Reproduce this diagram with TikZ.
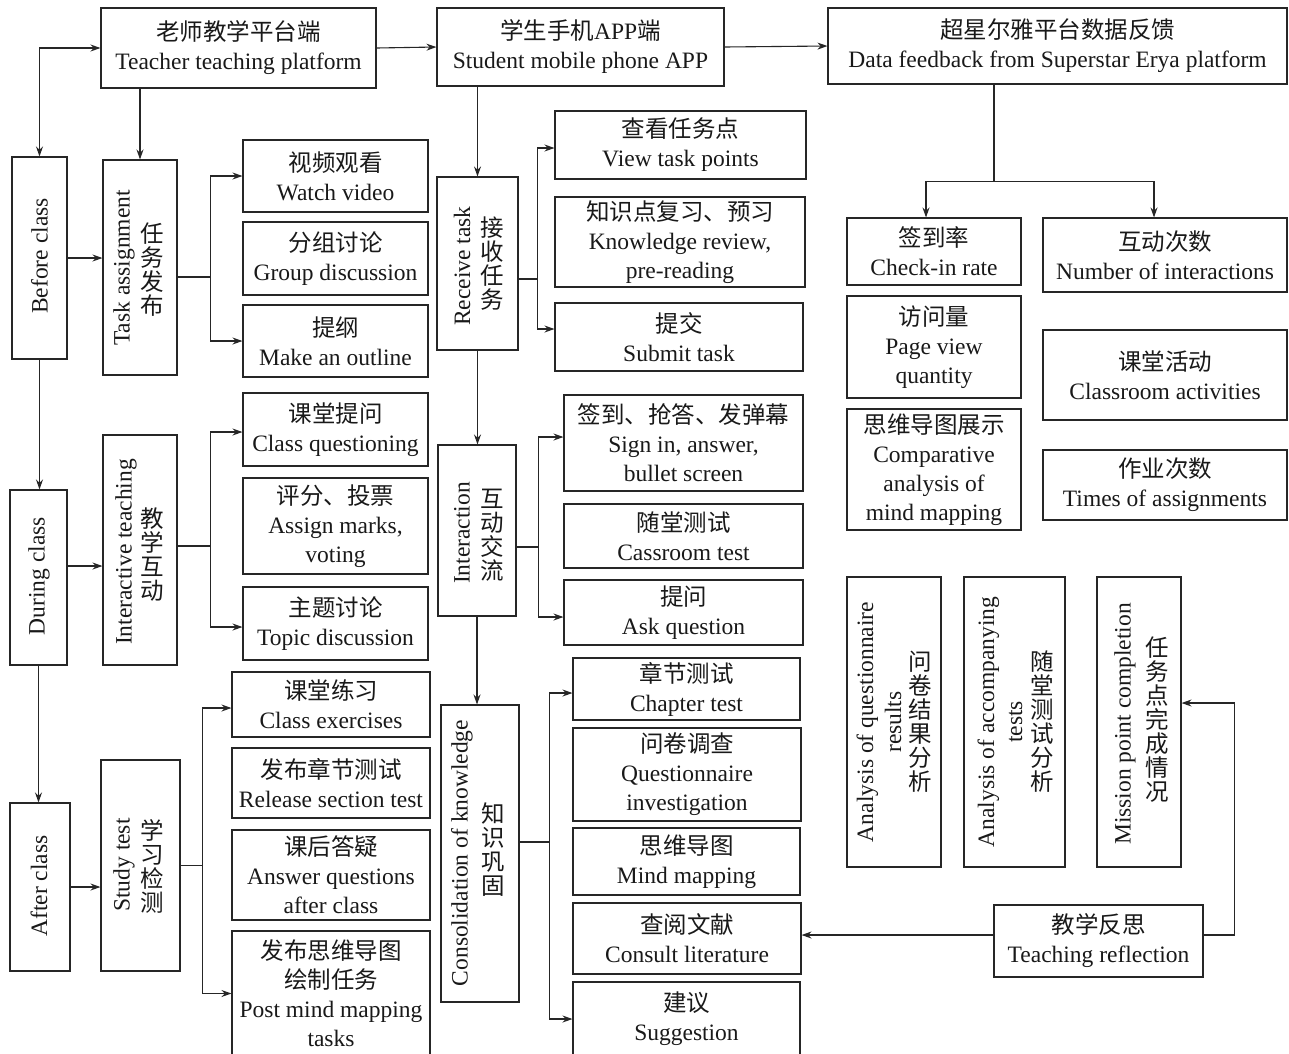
\documentclass[tikz,border=0pt]{standalone}
\usepackage{fontspec}
\setmainfont{Liberation Serif}
\newfontfamily\zh{Noto Sans CJK SC}
\usetikzlibrary{arrows.meta,calc}
\tikzset{
 bx/.style={draw=black!85, line width=1.1pt, inner sep=0pt, align=center, font=\fontsize{23.5}{29}\selectfont, text=black!90},
 arr/.style={draw=black!85, line width=1.1pt, -{Stealth[length=10pt,width=7pt]}},
 arrboth/.style={draw=black!85, line width=1.1pt, {Stealth[length=10pt,width=7pt]}-{Stealth[length=10pt,width=7pt]}},
 ln/.style={draw=black!85, line width=1.1pt},
 vzh/.style={align=center, font=\zh\fontsize{23.5}{24}\selectfont, inner sep=0pt, text=black!90},
 ven/.style={align=center, rotate=90, font=\fontsize{23.5}{28}\selectfont, inner sep=0pt, text=black!90},
}
\newcommand\bx[6]{\node[bx, minimum width={#4-#2}, minimum height={#5-#3}] (#1) at ({(#2+#4)/2},{(#3+#5)/2}) {#6};}
\begin{document}
\begin{tikzpicture}[x=1pt,y=-1pt]
\useasboundingbox[fill=white] (0,0) rectangle (1289,1053);
% top row
\bx{teacher}{101}{8}{376}{88}{{\zh 老师教学平台端}\\Teacher teaching platform}
\bx{student}{437}{8}{724}{86}{{\zh 学生手机}APP{\zh 端}\\Student mobile phone APP}
\bx{data}{828}{8}{1287}{84}{{\zh 超星尔雅平台数据反馈}\\Data feedback from Superstar Erya platform}
% left column
\bx{before}{12}{157}{67}{359}{}
\node[ven] (before-en) at (39.5,256) {Before class};
\bx{ta}{103}{160}{177}{375}{}
\node[ven] (ta-en) at (124,268) {Task assignment};
\node[vzh] (ta-zh) at (152,270) {任\\务\\发\\布};
\bx{wv}{243}{140}{428}{212}{{\zh 视频观看}\\Watch video}
\bx{gd}{243}{222}{428}{295}{{\zh 分组讨论}\\Group discussion}
\bx{mo}{243}{305}{428}{377}{{\zh 提纲}\\Make an outline}
\bx{during}{10}{490}{67}{665}{}
\node[ven] (during-en) at (39,576) {During class};
\bx{ia}{103}{435}{177}{665}{}
\node[ven] (ia-en) at (126,552) {Interactive teaching};
\node[vzh] (ia-zh) at (152,555) {教\\学\\互\\动};
\bx{cq}{243}{393}{428}{466}{{\zh 课堂提问}\\Class questioning}
\bx{am}{243}{478}{428}{574}{{\zh 评分、投票}\\Assign marks,\\voting}
\bx{td}{243}{587}{428}{660}{{\zh 主题讨论}\\Topic discussion}
\bx{after}{10}{803}{70}{971}{}
\node[ven] (after-en) at (39,886) {After class};
\bx{st}{101}{760}{180}{971}{}
\node[ven] (st-en) at (124,865) {Study test};
\node[vzh] (st-zh) at (152,866) {学\\习\\检\\测};
\bx{ce}{232}{672}{430}{737}{{\zh 课堂练习}\\Class exercises}
\bx{rs}{232}{748}{430}{818}{{\zh 发布章节测试}\\Release section test}
\bx{aq}{232}{830}{430}{920}{{\zh 课后答疑}\\Answer questions\\after class}
\bx{pm}{232}{931}{430}{1056}{{\zh 发布思维导图}\\{\zh 绘制任务}\\Post mind mapping\\tasks}
% middle column
\bx{rt}{437}{177}{518}{350}{}
\node[ven] (rt-en) at (462,266) {Receive task};
\node[vzh] (rt-zh) at (492,264) {接\\收\\任\\务};
\bx{vt}{555}{111}{806}{179}{{\zh 查看任务点}\\View task points}
\bx{kr}{555}{197}{805}{287}{{\zh 知识点复习、预习}\\Knowledge review,\\pre-reading}
\bx{sb}{555}{303}{803}{371}{{\zh 提交}\\Submit task}
\bx{it}{438}{445}{516}{616}{}
\node[ven] (it-en) at (462,533) {Interaction};
\node[vzh] (it-zh) at (492,535) {互\\动\\交\\流};
\bx{si}{564}{395}{803}{491}{{\zh 签到、抢答、发弹幕}\\Sign in, answer,\\bullet screen}
\bx{ct}{564}{504}{803}{568}{{\zh 随堂测试}\\Cassroom test}
\bx{ak}{564}{580}{803}{645}{{\zh 提问}\\Ask question}
\bx{co}{441}{705}{519}{1002}{}
\node[ven] (co-en) at (462,853) {Consolidation of knowledge};
\node[vzh] (co-zh) at (493,850) {知\\识\\巩\\固};
\bx{ch}{573}{658}{800}{720}{{\zh 章节测试}\\Chapter test}
\bx{qi}{573}{728}{801}{821}{{\zh 问卷调查}\\Questionnaire\\investigation}
\bx{mm}{573}{828}{800}{895}{{\zh 思维导图}\\Mind mapping}
\bx{cl}{573}{903}{801}{974}{{\zh 查阅文献}\\Consult literature}
\bx{sg}{573}{982}{800}{1056}{{\zh 建议}\\Suggestion}
% right column
\bx{ci}{847}{218}{1021}{285}{{\zh 签到率}\\Check-in rate}
\bx{ni}{1043}{218}{1287}{292}{{\zh 互动次数}\\Number of interactions}
\bx{pv}{847}{296}{1021}{398}{{\zh 访问量}\\Page view\\quantity}
\bx{ca}{1043}{330}{1287}{420}{{\zh 课堂活动}\\Classroom activities}
\bx{cm}{847}{409}{1021}{530}{{\zh 思维导图展示}\\Comparative\\analysis of\\mind mapping}
\bx{toa}{1043}{450}{1287}{520}{{\zh 作业次数}\\Times of assignments}
\bx{aqr}{847}{577}{941}{867}{}
\node[ven] (aqr-en) at (879,722) {Analysis of questionnaire\\results};
\node[vzh] (aqr-zh) at (920,722) {问\\卷\\结\\果\\分\\析};
\bx{aat}{964}{577}{1065}{867}{}
\node[ven] (aat-en) at (1000,722) {Analysis of accompanying\\tests};
\node[vzh] (aat-zh) at (1042,722) {随\\堂\\测\\试\\分\\析};
\bx{mp}{1097}{577}{1181}{867}{}
\node[ven] (mp-en) at (1125,724) {Mission point completion};
\node[vzh] (mp-zh) at (1157,720) {任\\务\\点\\完\\成\\情\\况};
\bx{tr}{994}{905}{1203}{977}{{\zh 教学反思}\\Teaching reflection}
% connectors
\draw[arrboth] (teacher.west) -| (before.north);
\draw[arr] (teacher.east) -- (student.west);
\draw[arr] (student.east) -- (data.west);
\draw[arr] (ta.north |- teacher.south) -- (ta.north);
\draw[arr] (before.east) -- (before.east -| ta.west);
\draw[ln] ([yshift=-9.5]ta.east) -- ++(33,0) coordinate (tj);
\draw[arr] (tj) |- (wv.west);
\draw[arr] (tj) |- (mo.west);
\draw[arr] (before.south) -- (before.south |- during.north);
\draw[arr] ([yshift=11.5]during.east) -- ([yshift=11.5]during.east -| ia.west);
\draw[ln] ([yshift=4]ia.east) -- ++(33,0) coordinate (ij);
\draw[arr] (ij) |- ([yshift=-2.5]cq.west);
\draw[arr] (ij) |- ([yshift=-3.5]td.west);
\draw[arr] (during.south) -- (during.south |- after.north);
\draw[arr] (after.east) -- (after.east -| st.west);
\draw[ln] (st.east) -- ++(22,0) coordinate (sj);
\draw[arr] (sj) |- ([yshift=-3.5]ce.west);
\draw[arr] (sj) |- (pm.west);
\draw[arr] (rt.north |- student.south) -- (rt.north);
\draw[ln] ([yshift=-15.5]rt.east) -- ++(19,0) coordinate (rj);
\draw[arr] (rj) |- ([yshift=-3]vt.west);
\draw[arr] (rj) |- ([yshift=8]sb.west);
\draw[arr] (rt.south) -- (rt.south |- it.north);
\draw[ln] ([yshift=-16.5]it.east) -- ++(22,0) coordinate (ij2);
\draw[arr] (ij2) |- ([yshift=6]si.west);
\draw[arr] (ij2) |- ([yshift=-4.5]ak.west);
\draw[arr] (it.south) -- (it.south |- co.north);
\draw[ln] ([yshift=11.5]co.east) -- ++(30,0) coordinate (cj);
\draw[arr] (cj) |- ([yshift=-4]ch.west);
\draw[arr] (cj) |- (sg.west);
\draw[ln] ([xshift=-63.5]data.south) -- ++(0,97) coordinate (dj);
\draw[arr] (dj) -| ([xshift=-8]ci.north);
\draw[arr] (dj) -| ([xshift=-11]ni.north);
\draw[arr] ([yshift=6]tr.west) -- ([yshift=6]tr.west -| cl.east);
\draw[arr] ([yshift=6]tr.east) -- ++(31,0) |- ([yshift=19]mp.east);
\end{tikzpicture}
\end{document}
